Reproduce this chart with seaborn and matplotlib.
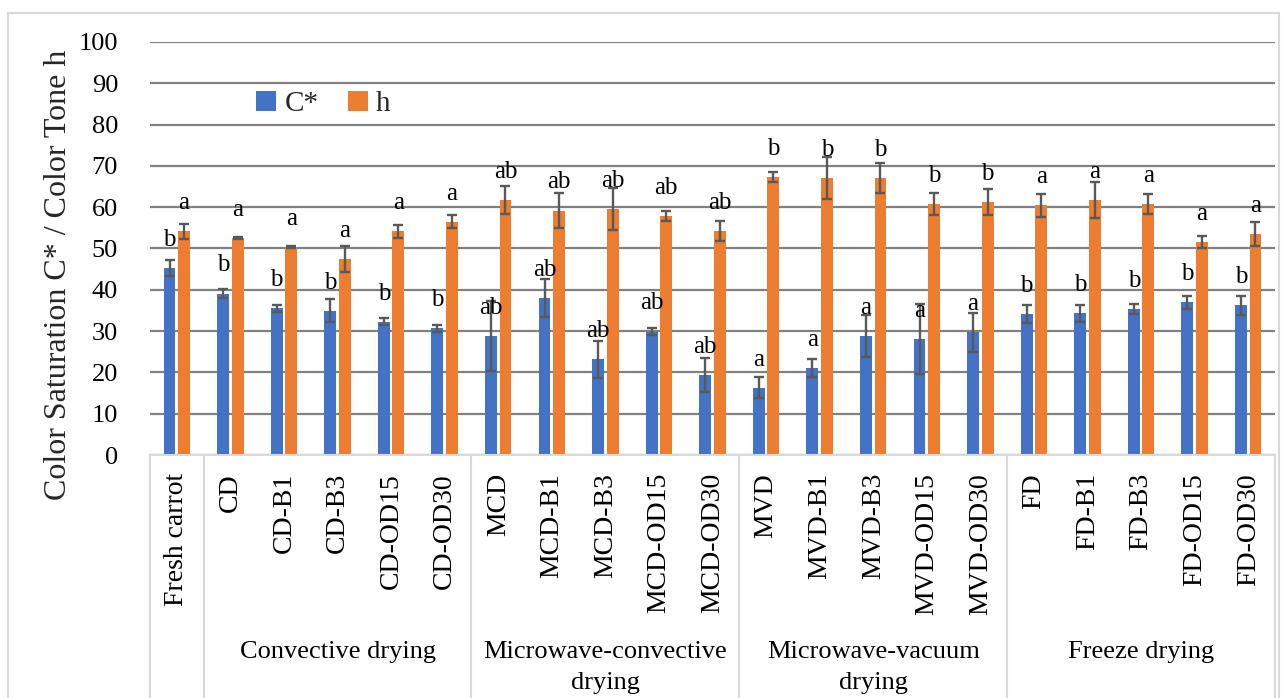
import numpy as np
import pandas as pd
import matplotlib
matplotlib.use('Agg')
import matplotlib.pyplot as plt
import seaborn as sns
from matplotlib.patches import Rectangle

# sample names (x axis) and group labels under them
samples = ['Fresh carrot', 'CD', 'CD-B1', 'CD-B3', 'CD-OD15', 'CD-OD30',
           'MCD', 'MCD-B1', 'MCD-B3', 'MCD-OD15', 'MCD-OD30',
           'MVD', 'MVD-B1', 'MVD-B3', 'MVD-OD15', 'MVD-OD30',
           'FD', 'FD-B1', 'FD-B3', 'FD-OD15', 'FD-OD30']
groups = ['', 'Convective drying', 'Microwave-convective\ndrying',
          'Microwave-vacuum\ndrying', 'Freeze drying']
group_sizes = [1, 5, 5, 5, 5]

# C* values and standard deviations
c_star = [45.3, 39.1, 35.5, 34.9, 32.3, 30.7, 28.8, 37.9, 23.2, 29.9, 19.4,
          16.3, 21.0, 28.8, 28.1, 29.7, 34.1, 34.3, 35.3, 37.0, 36.2]
c_err = [2.0, 1.0, 0.8, 2.8, 0.9, 0.8, 8.5, 4.6, 4.5, 0.8, 4.2,
         2.5, 2.2, 5.1, 8.4, 4.8, 2.2, 2.0, 1.2, 1.6, 2.2]
c_letters = ['b'] * 6 + ['ab'] * 5 + ['a'] * 5 + ['b'] * 5

# h values and standard deviations
h_vals = [54.2, 52.5, 50.4, 47.5, 54.2, 56.5, 61.7, 59.2, 59.6, 57.9, 54.2,
          67.4, 67.1, 67.0, 60.8, 61.3, 60.5, 61.7, 60.8, 51.6, 53.6]
h_err = [1.8, 0.3, 0.3, 3.2, 1.6, 1.6, 3.4, 4.3, 5.0, 1.3, 2.5,
         1.2, 5.0, 3.6, 2.6, 3.1, 2.8, 4.3, 2.5, 1.5, 2.9]
h_letters = ['a'] * 6 + ['ab'] * 5 + ['b'] * 5 + ['a'] * 5

# long format table for seaborn
df = pd.DataFrame({
    'sample': samples * 2,
    'param': ['C*'] * len(samples) + ['h'] * len(samples),
    'value': c_star + h_vals,
})

sns.set_theme(style='white')
plt.rcParams['font.family'] = ['Liberation Serif', 'DejaVu Serif']

fig = plt.figure(figsize=(12.83, 6.98), dpi=100)
ax = fig.add_axes([150 / 1283, (698 - 455) / 698, 1125 / 1283, 413 / 698])

sns.barplot(data=df, x='sample', y='value', hue='param', order=samples,
            hue_order=['C*', 'h'], palette=['#4472C4', '#ED7D31'],
            saturation=1, width=0.54, gap=0.18, linewidth=0, ax=ax)

# error bars and significance letters on top of each bar set
for cont, errs, letters in zip(ax.containers, [c_err, h_err], [c_letters, h_letters]):
    xs = [p.get_x() + p.get_width() / 2 for p in cont]
    ys = [p.get_height() for p in cont]
    ax.errorbar(xs, ys, yerr=errs, fmt='none', ecolor='#595959',
                elinewidth=1.7, capsize=3.5, capthick=1.7, zorder=3)
    for x, y, lab in zip(xs, ys, letters):
        ax.text(x, y + 6.8, lab, ha='center', va='center', fontsize=18, color='black')

ax.set_ylim(0, 100)
ax.set_yticks(np.arange(0, 101, 10))
ax.yaxis.grid(True, color='#808080', linewidth=1.6)
ax.set_axisbelow(True)
for s in ['left', 'right', 'top']:
    ax.spines[s].set_visible(False)
ax.spines['bottom'].set_color('#d9d9d9')
ax.spines['bottom'].set_linewidth(1.5)

ax.tick_params(axis='y', length=0, pad=23, labelsize=19, labelcolor='black')
ax.tick_params(axis='x', length=0, pad=13, labelsize=20, labelcolor='black')
plt.setp(ax.get_xticklabels(), rotation=90)
ax.set_xlabel('')
ax.set_ylabel('Color Saturation C* / Color Tone h', fontsize=23)
ax.yaxis.set_label_coords(-0.068, 0.436)

# group separators and group names below the tick labels
tr = ax.get_xaxis_transform()
edge = -0.5
ax.plot([edge, edge], [0, -0.7], transform=tr, color='#d9d9d9', lw=1.5, clip_on=False)
for name, size in zip(groups, group_sizes):
    right = edge + size
    ax.plot([right, right], [0, -0.7], transform=tr, color='#d9d9d9', lw=1.5, clip_on=False)
    if name:
        ax.text((edge + right) / 2, -0.45, name, transform=tr, ha='center', va='top',
                fontsize=19, linespacing=1.55, color='black')
    edge = right
ax.set_xlim(-0.5, len(samples) - 0.5)

handles, labels = ax.get_legend_handles_labels()
ax.legend(handles, labels, loc='center left', bbox_to_anchor=(0.094, 0.85), ncol=2,
          frameon=False, fontsize=21, handlelength=0.7, handleheight=0.7,
          handletextpad=0.28, columnspacing=1.0, borderpad=0, borderaxespad=0)

# light chart-area border
fig.patches.append(Rectangle((8 / 1283, -0.05), 1271 / 1283, 1.05 - 13 / 698,
                             transform=fig.transFigure, fill=False,
                             edgecolor='#d9d9d9', linewidth=1.5))

fig.savefig('out.png', dpi=100)
